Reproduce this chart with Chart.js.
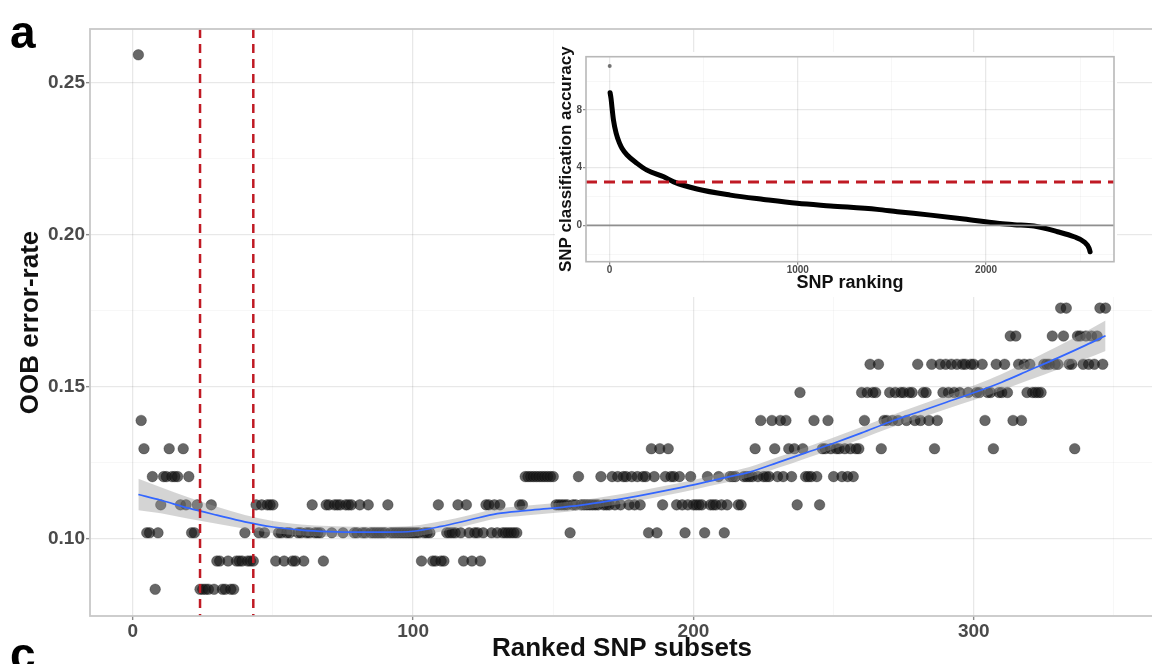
<!DOCTYPE html>
<html>
<head>
<meta charset="utf-8">
<script src="https://cdn.jsdelivr.net/npm/chart.js@4.4.1/dist/chart.umd.min.js"></script>
<style>
  html, body { margin: 0; padding: 0; background: #fff; overflow: hidden; }
  #wrap { position: relative; width: 1152px; height: 664px; overflow: hidden; }
  #mainChart { position: absolute; left: 0; top: 0; }
  #insetChart { position: absolute; left: 540px; top: 36px; }
</style>
</head>
<body>
<div id="wrap">
  <canvas id="mainChart" width="1160" height="664"></canvas>
  <canvas id="insetChart" width="590" height="264"></canvas>
</div>
<script>
const FONT = "'Liberation Sans', Arial, Helvetica, sans-serif";

// main panel: OOB error-rate for each ranked SNP subset (subsets start at 2)
const firstSubset = 2;
const oobError = [
  0.2593, 0.1389, 0.1296, 0.1019, 0.1019, 0.1204, 0.0833, 0.1019, 0.1111, 0.1204,
  0.1204, 0.1296, 0.1204, 0.1204, 0.1204, 0.1111, 0.1296, 0.1111, 0.1204, 0.1019,
  0.1019, 0.1111, 0.0833, 0.0833, 0.0833, 0.0833, 0.1111, 0.0833, 0.0926, 0.0926,
  0.0833, 0.0833, 0.0926, 0.0833, 0.0833, 0.0926, 0.0926, 0.0926, 0.1019, 0.0926,
  0.0926, 0.0926, 0.1111, 0.1019, 0.1111, 0.1019, 0.1111, 0.1111, 0.1111, 0.0926,
  0.1019, 0.1019, 0.0926, 0.1019, 0.1019, 0.0926, 0.0926, 0.1019, 0.1019, 0.0926,
  0.1019, 0.1019, 0.1111, 0.1019, 0.1019, 0.1019, 0.0926, 0.1111, 0.1111, 0.1019,
  0.1111, 0.1111, 0.1111, 0.1019, 0.1111, 0.1111, 0.1111, 0.1019, 0.1019, 0.1111,
  0.1019, 0.1019, 0.1111, 0.1019, 0.1019, 0.1019, 0.1019, 0.1019, 0.1019, 0.1111,
  0.1019, 0.1019, 0.1019, 0.1019, 0.1019, 0.1019, 0.1019, 0.1019, 0.1019, 0.1019,
  0.1019, 0.0926, 0.1019, 0.1019, 0.1019, 0.0926, 0.0926, 0.1111, 0.0926, 0.0926,
  0.1019, 0.1019, 0.1019, 0.1019, 0.1111, 0.1019, 0.0926, 0.1111, 0.1019, 0.0926,
  0.1019, 0.1019, 0.0926, 0.1019, 0.1111, 0.1111, 0.1019, 0.1111, 0.1019, 0.1111,
  0.1019, 0.1019, 0.1019, 0.1019, 0.1019, 0.1019, 0.1111, 0.1111, 0.1204, 0.1204,
  0.1204, 0.1204, 0.1204, 0.1204, 0.1204, 0.1204, 0.1204, 0.1204, 0.1204, 0.1111,
  0.1111, 0.1111, 0.1111, 0.1111, 0.1019, 0.1111, 0.1111, 0.1204, 0.1111, 0.1111,
  0.1111, 0.1111, 0.1111, 0.1111, 0.1111, 0.1204, 0.1111, 0.1111, 0.1111, 0.1204,
  0.1111, 0.1204, 0.1111, 0.1204, 0.1204, 0.1111, 0.1204, 0.1111, 0.1204, 0.1111,
  0.1204, 0.1204, 0.1019, 0.1296, 0.1204, 0.1019, 0.1296, 0.1111, 0.1204, 0.1296,
  0.1204, 0.1204, 0.1111, 0.1204, 0.1111, 0.1019, 0.1111, 0.1204, 0.1111, 0.1111,
  0.1111, 0.1111, 0.1019, 0.1204, 0.1111, 0.1111, 0.1111, 0.1204, 0.1111, 0.1019,
  0.1111, 0.1204, 0.1204, 0.1204, 0.1111, 0.1111, 0.1204, 0.1204, 0.1204, 0.1204,
  0.1296, 0.1204, 0.1389, 0.1204, 0.1204, 0.1204, 0.1389, 0.1296, 0.1204, 0.1389,
  0.1204, 0.1389, 0.1296, 0.1204, 0.1296, 0.1111, 0.1481, 0.1296, 0.1204, 0.1204,
  0.1204, 0.1389, 0.1204, 0.1111, 0.1296, 0.1296, 0.1389, 0.1296, 0.1204, 0.1296,
  0.1296, 0.1204, 0.1296, 0.1204, 0.1296, 0.1204, 0.1296, 0.1296, 0.1481, 0.1389,
  0.1481, 0.1574, 0.1481, 0.1481, 0.1574, 0.1296, 0.1389, 0.1389, 0.1481, 0.1389,
  0.1481, 0.1389, 0.1481, 0.1481, 0.1389, 0.1481, 0.1481, 0.1389, 0.1574, 0.1389,
  0.1481, 0.1481, 0.1389, 0.1574, 0.1296, 0.1389, 0.1574, 0.1481, 0.1574, 0.1481,
  0.1574, 0.1481, 0.1574, 0.1481, 0.1574, 0.1574, 0.1481, 0.1574, 0.1574, 0.1481,
  0.1481, 0.1574, 0.1389, 0.1481, 0.1481, 0.1296, 0.1574, 0.1481, 0.1481, 0.1574,
  0.1481, 0.1667, 0.1389, 0.1667, 0.1574, 0.1389, 0.1574, 0.1481, 0.1574, 0.1481,
  0.1481, 0.1481, 0.1481, 0.1574, 0.1574, 0.1574, 0.1667, 0.1574, 0.1574, 0.1759,
  0.1667, 0.1759, 0.1574, 0.1574, 0.1296, 0.1667, 0.1667, 0.1574, 0.1667, 0.1574,
  0.1667, 0.1574, 0.1667, 0.1759, 0.1574, 0.1759
];

// loess fit and its standard error band
const smoothX = [2, 10, 20, 30, 40, 50, 60, 70, 80, 90, 100, 110, 120, 130, 140, 150, 160, 170,
  180, 190, 200, 210, 220, 230, 240, 250, 260, 270, 280, 290, 300, 310, 320, 330, 340, 347];
const smoothFit = [0.1145, 0.1126, 0.1100, 0.1077, 0.1055, 0.1038, 0.1028, 0.1023, 0.1021, 0.1021,
  0.1024, 0.1040, 0.1061, 0.1082, 0.1092, 0.1100, 0.1110, 0.1124, 0.1140, 0.1158, 0.1177, 0.1198,
  0.1219, 0.1250, 0.1282, 0.1314, 0.1348, 0.1384, 0.1416, 0.1448, 0.1480, 0.1515, 0.1555, 0.1595,
  0.1637, 0.1668];
const smoothSe = [0.0052, 0.0043, 0.0035, 0.0028, 0.0023, 0.0020, 0.0018, 0.0018, 0.0018, 0.0018,
  0.0018, 0.0017, 0.0016, 0.0016, 0.0016, 0.0016, 0.0016, 0.0016, 0.0016, 0.0016, 0.0016, 0.0017,
  0.0017, 0.0018, 0.0018, 0.0019, 0.0019, 0.0020, 0.0021, 0.0022, 0.0024, 0.0027, 0.0032, 0.0038,
  0.0045, 0.0050];

const cutoffSubsets = [24, 43];
const xTicks = [0, 50, 100, 150, 200, 250, 300, 350];
const xLabelled = [0, 100, 200, 300];
const yTicks = [0.10, 0.125, 0.15, 0.175, 0.20, 0.225, 0.25];
const yLabelled = [0.10, 0.15, 0.20, 0.25];

// inset: SNP classification accuracy by ranking
const topSnpRank = [1];
const topSnpAcc = [11.05];
const snpRank = [3, 8, 13, 21, 35, 53, 66, 92, 146, 199, 288, 341, 465, 642, 819, 997, 1174,
  1422, 1529, 1706, 1883, 2061, 2149, 2255, 2380, 2468, 2521, 2548, 2553];
const snpAcc = [9.2, 8.8, 8.2, 7.3, 6.4, 5.7, 5.35, 4.9, 4.3, 3.83, 3.37, 3.02, 2.52, 2.1, 1.8,
  1.53, 1.35, 1.11, 0.95, 0.71, 0.44, 0.14, 0.05, -0.05, -0.44, -0.79, -1.14, -1.6, -1.83];
const accuracyCutoff = 3;
const insetXTicks = [0, 500, 1000, 1500, 2000, 2500];
const insetXLabelled = [0, 1000, 2000];
const insetYTicks = [-2, 0, 2, 4, 6, 8, 10];
const insetYLabelled = [0, 4, 8];

const RED = '#c01a24';
const has = (arr, v) => arr.some(a => Math.abs(a - v) < 1e-9);

function gridFor(labelled) {
  return {
    color: ctx => has(labelled, ctx.tick.value) ? 'rgba(0,0,0,0.09)' : 'rgba(0,0,0,0.045)',
    lineWidth: ctx => has(labelled, ctx.tick.value) ? 1.3 : 0.8,
    tickColor: ctx => has(labelled, ctx.tick.value) ? '#8a8a8a' : 'rgba(0,0,0,0)',
    drawTicks: true
  };
}

const panelBorder = {
  id: 'panelBorder',
  afterDraw(chart, args, opts) {
    const { ctx, chartArea: a } = chart;
    ctx.save();
    ctx.strokeStyle = opts.color || '#c6c6c6';
    ctx.lineWidth = opts.width || 1.5;
    ctx.strokeRect(a.left, a.top, a.right - a.left, a.bottom - a.top);
    ctx.restore();
  }
};

// ---------- main chart ----------
const points = oobError.map((y, i) => ({ x: firstSubset + i, y }));
const bandLow = smoothX.map((x, i) => ({ x, y: smoothFit[i] - smoothSe[i] }));
const bandHigh = smoothX.map((x, i) => ({ x, y: smoothFit[i] + smoothSe[i] }));
const fitLine = smoothX.map((x, i) => ({ x, y: smoothFit[i] }));

const mainDecor = {
  id: 'mainDecor',
  afterDatasetsDraw(chart) {
    const { ctx, chartArea: a, scales: { x } } = chart;
    ctx.save();
    ctx.strokeStyle = RED;
    ctx.lineWidth = 2.5;
    ctx.setLineDash([9, 6]);
    cutoffSubsets.forEach(v => {
      const px = x.getPixelForValue(v);
      ctx.beginPath();
      ctx.moveTo(px, a.top);
      ctx.lineTo(px, a.bottom);
      ctx.stroke();
    });
    ctx.restore();
  },
  afterDraw(chart) {
    const { ctx } = chart;
    ctx.save();
    ctx.fillStyle = '#000';
    ctx.font = 'bold 46px ' + FONT;
    ctx.textBaseline = 'alphabetic';
    ctx.fillText('a', 10, 48);
    ctx.fillText('c', 10, 670);
    ctx.restore();
  }
};

new Chart(document.getElementById('mainChart'), {
  type: 'scatter',
  data: {
    datasets: [
      {
        label: 'OOB error-rate',
        data: points,
        order: 4,
        pointRadius: 5.3,
        pointHoverRadius: 5.3,
        backgroundColor: 'rgba(25,25,25,0.66)',
        borderColor: 'rgba(0,0,0,0.35)',
        borderWidth: 0.8
      },
      {
        type: 'line',
        data: bandLow,
        order: 3,
        borderWidth: 0,
        pointRadius: 0,
        fill: false,
        cubicInterpolationMode: 'monotone'
      },
      {
        type: 'line',
        data: bandHigh,
        order: 2,
        borderWidth: 0,
        pointRadius: 0,
        fill: '-1',
        backgroundColor: 'rgba(153,153,153,0.42)',
        cubicInterpolationMode: 'monotone'
      },
      {
        type: 'line',
        data: fitLine,
        order: 1,
        borderColor: '#3366ff',
        borderWidth: 1.7,
        pointRadius: 0,
        fill: false,
        cubicInterpolationMode: 'monotone'
      }
    ]
  },
  options: {
    responsive: false,
    animation: false,
    devicePixelRatio: 1,
    layout: { padding: { top: 29, right: 3.6, left: 0, bottom: 0 } },
    plugins: {
      legend: { display: false },
      tooltip: { enabled: false },
      panelBorder: { color: '#c8c8c8', width: 1.8 }
    },
    scales: {
      x: {
        type: 'linear',
        min: -15.25,
        max: 364.25,
        afterBuildTicks: s => { s.ticks = xTicks.map(v => ({ value: v })); },
        afterFit: s => { s.height = 48; },
        grid: Object.assign(gridFor(xLabelled), { tickLength: 4, tickWidth: 1.4 }),
        border: { display: false },
        ticks: {
          padding: 0,
          color: '#4a4a4a',
          font: { family: FONT, size: 19, weight: 'bold' },
          maxRotation: 0,
          autoSkip: false,
          callback: v => has(xLabelled, v) ? String(v) : ''
        },
        title: {
          display: true,
          text: 'Ranked SNP subsets',
          color: '#111',
          font: { family: FONT, size: 26, weight: 'bold' },
          padding: { top: 0, bottom: 0 }
        }
      },
      y: {
        type: 'linear',
        min: 0.0745,
        max: 0.2678,
        afterBuildTicks: s => { s.ticks = yTicks.map(v => ({ value: v })); },
        afterFit: s => { s.width = 90; },
        grid: Object.assign(gridFor(yLabelled), { tickLength: 4, tickWidth: 1.4 }),
        border: { display: false },
        ticks: {
          padding: 1,
          color: '#4a4a4a',
          font: { family: FONT, size: 19, weight: 'bold' },
          autoSkip: false,
          callback: v => has(yLabelled, v) ? v.toFixed(2) : ''
        },
        title: {
          display: true,
          text: 'OOB error-rate',
          color: '#111',
          font: { family: FONT, size: 26, weight: 'bold' },
          padding: { top: 15, bottom: 0 }
        }
      }
    }
  },
  plugins: [mainDecor, panelBorder]
});

// ---------- inset chart ----------
const insetDecor = {
  id: 'insetDecor',
  beforeDraw(chart) {
    const { ctx } = chart;
    ctx.save();
    ctx.fillStyle = '#fff';
    ctx.fillRect(15, 16, 562, 245);
    ctx.restore();
  },
  afterDatasetsDraw(chart) {
    const { ctx, chartArea: a, scales: { y } } = chart;
    ctx.save();
    const y0 = y.getPixelForValue(0);
    ctx.strokeStyle = '#8f8f8f';
    ctx.lineWidth = 1.6;
    ctx.beginPath();
    ctx.moveTo(a.left, y0);
    ctx.lineTo(a.right, y0);
    ctx.stroke();
    const yc = y.getPixelForValue(accuracyCutoff);
    ctx.strokeStyle = RED;
    ctx.lineWidth = 3;
    ctx.setLineDash([11, 7]);
    ctx.beginPath();
    ctx.moveTo(a.left, yc);
    ctx.lineTo(a.right, yc);
    ctx.stroke();
    ctx.restore();
  }
};

new Chart(document.getElementById('insetChart'), {
  type: 'scatter',
  data: {
    datasets: [
      {
        data: topSnpRank.map((x, i) => ({ x, y: topSnpAcc[i] })),
        pointRadius: 2,
        backgroundColor: 'rgba(60,60,60,0.7)',
        borderWidth: 0
      },
      {
        type: 'line',
        data: snpRank.map((x, i) => ({ x, y: snpAcc[i] })),
        borderColor: '#000',
        borderWidth: 5,
        borderCapStyle: 'round',
        pointRadius: 0,
        fill: false,
        cubicInterpolationMode: 'monotone'
      }
    ]
  },
  options: {
    responsive: false,
    animation: false,
    devicePixelRatio: 1,
    layout: { padding: { top: 20.7, right: 16, left: 0, bottom: 0 } },
    plugins: {
      legend: { display: false },
      tooltip: { enabled: false },
      panelBorder: { color: '#b8b8b8', width: 1.6 }
    },
    scales: {
      x: {
        type: 'linear',
        min: -125,
        max: 2680,
        afterBuildTicks: s => { s.ticks = insetXTicks.map(v => ({ value: v })); },
        afterFit: s => { s.height = 38.3; },
        grid: Object.assign(gridFor(insetXLabelled), { tickLength: 3, tickWidth: 1.2 }),
        border: { display: false },
        ticks: {
          padding: 0,
          color: '#4a4a4a',
          font: { family: FONT, size: 10, weight: 'bold' },
          maxRotation: 0,
          autoSkip: false,
          callback: v => has(insetXLabelled, v) ? String(v) : ''
        },
        title: {
          display: true,
          text: 'SNP ranking',
          color: '#111',
          font: { family: FONT, size: 18, weight: 'bold' },
          padding: { top: 0, bottom: 6 }
        }
      },
      y: {
        type: 'linear',
        min: -2.52,
        max: 11.7,
        afterBuildTicks: s => { s.ticks = insetYTicks.map(v => ({ value: v })); },
        afterFit: s => { s.width = 46; },
        grid: Object.assign(gridFor(insetYLabelled), { tickLength: 3, tickWidth: 1.2 }),
        border: { display: false },
        ticks: {
          padding: 1,
          color: '#4a4a4a',
          font: { family: FONT, size: 10, weight: 'bold' },
          autoSkip: false,
          callback: v => has(insetYLabelled, v) ? String(v) : ''
        },
        title: {
          display: true,
          text: 'SNP classification accuracy',
          color: '#111',
          font: { family: FONT, size: 17, weight: 'bold' },
          padding: { top: 16, bottom: 0 }
        }
      }
    }
  },
  plugins: [insetDecor, panelBorder]
});
</script>
</body>
</html>
